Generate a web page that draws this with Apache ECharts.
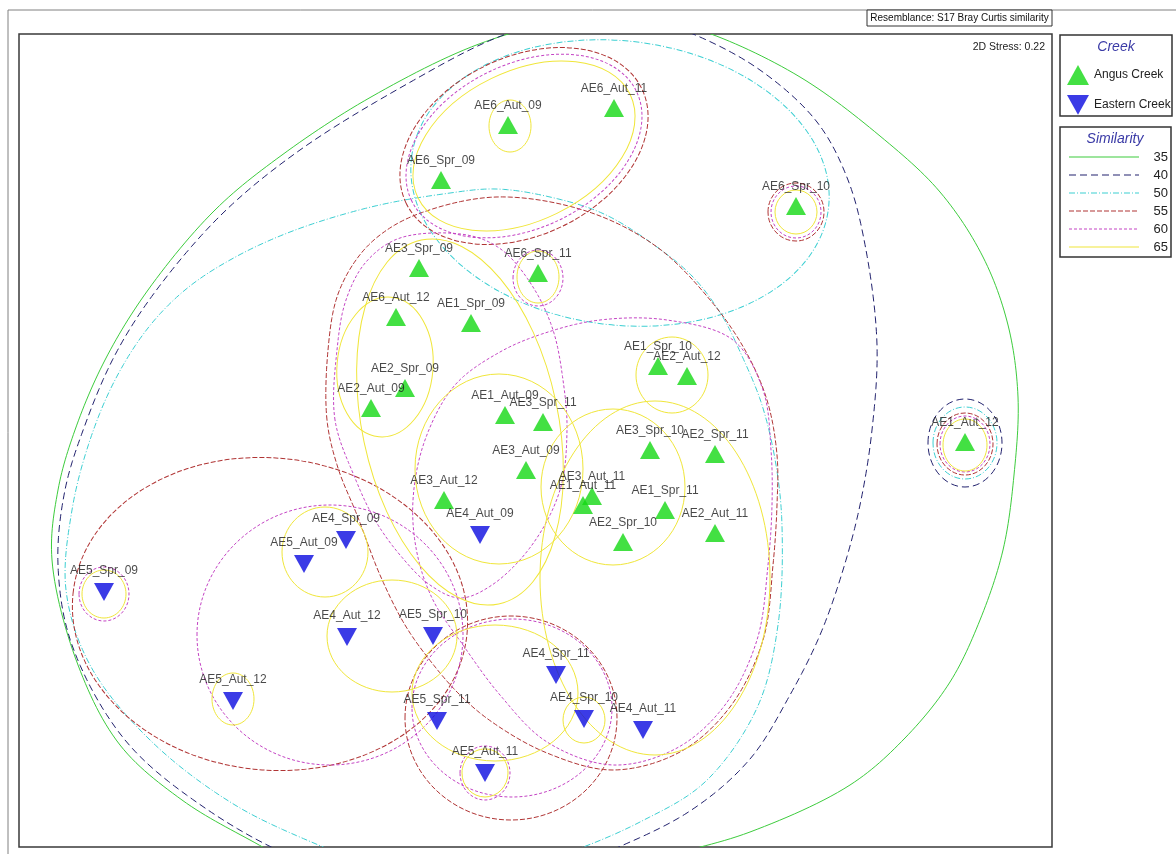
<!DOCTYPE html>
<html>
<head>
<meta charset="utf-8">
<title>nMDS – Angus Creek vs Eastern Creek</title>
<script src="https://cdn.jsdelivr.net/npm/echarts/dist/echarts.min.js"></script>
<style>
  html, body { margin: 0; padding: 0; background: #fff; }
  #chart { width: 1176px; height: 854px; }
</style>
</head>
<body>
<div id="chart"></div>
<script>
// ---- Ordination scores (plot units) ----
const angusNames = ['AE6_Aut_09','AE6_Aut_11','AE6_Spr_09','AE6_Spr_10','AE3_Spr_09','AE6_Spr_11',
  'AE6_Aut_12','AE1_Spr_09','AE1_Spr_10','AE2_Aut_12','AE2_Spr_09','AE2_Aut_09','AE1_Aut_09',
  'AE3_Spr_11','AE3_Aut_09','AE3_Aut_11','AE1_Aut_11','AE3_Spr_10','AE2_Spr_11','AE3_Aut_12',
  'AE1_Spr_11','AE2_Spr_10','AE2_Aut_11','AE1_Aut_12'];
const angusX = [508,614,441,796,419,538,396,471,658,687,405,371,505,543,526,592,583,650,715,444,665,623,715,965];
const angusY = [125,108,180,206,268,273,317,323,366,376,388,408,415,422,470,496,505,450,454,500,510,542,533,442];

const easternNames = ['AE4_Aut_09','AE4_Spr_09','AE5_Aut_09','AE5_Spr_09','AE4_Aut_12','AE5_Spr_10',
  'AE5_Aut_12','AE4_Spr_11','AE5_Spr_11','AE4_Spr_10','AE4_Aut_11','AE5_Aut_11'];
const easternX = [480,346,304,104,347,433,233,556,437,584,643,485];
const easternY = [535,540,564,592,637,636,701,675,721,719,730,773];

// ---- Similarity contours ----
// ellipses: [centreX, centreY, radiusX, radiusY, tilt in degrees (anticlockwise)]
// outlines: closed point lists traced around each group
const levels = ['35', '40', '50', '55', '60', '65'];

const outline35 = [[52,560],[58,490],[75,430],[105,360],[148,290],[215,210],[282,155],[371,97],[479,44],
  [570,20],[650,18],[711,34],[800,77],[880,136],[940,192],[983,257],[1008,325],[1018,397],[1014,475],
  [1003,550],[980,620],[950,682],[905,738],[850,785],[750,832],[660,858],[560,890],[420,895],[320,875],
  [250,840],[182,800],[120,745],[78,665]];

const outline40 = [[58,565],[65,490],[85,425],[115,355],[155,292],[222,214],[300,150],[407,84],[496,38],
  [570,16],[640,17],[693,34],[760,70],[817,122],[848,180],[866,250],[877,345],[872,430],[860,505],
  [843,570],[820,635],[790,695],[750,759],[690,811],[600,855],[520,885],[400,888],[300,860],[205,808],
  [125,740],[72,645]];

const outline50 = [[66,590],[72,510],[90,440],[115,380],[148,328],[185,290],[230,260],[290,232],[371,207],
  [443,194],[496,189],[550,197],[604,214],[657,247],[693,277],[721,314],[742,356],[762,405],[776,465],
  [782,526],[778,625],[757,708],[705,782],[640,822],[570,852],[480,880],[400,878],[330,850],[235,805],
  [150,740],[90,665]];

const outline55 = [[327,420],[328,350],[337,297],[356,260],[380,235],[418,214],[496,197],[586,211],
  [657,247],[711,301],[745,350],[767,400],[777,455],[777,505],[773,565],[763,640],[730,707],[680,752],
  [613,770],[547,753],[492,722],[460,695],[432,663],[405,625],[380,575],[357,515],[338,468]];

const outline60a = [[335,420],[337,350],[346,300],[366,262],[400,238],[467,235],[502,250],[533,287],
  [553,330],[563,380],[567,430],[560,490],[532,545],[492,585],[460,598],[430,585],[400,555],[375,520],
  [355,478]];

const outline60b = [[413,500],[425,440],[455,385],[500,352],[545,333],[600,320],[667,320],[733,340],
  [763,390],[771,450],[772,505],[768,565],[757,640],[725,705],[677,748],[613,765],[547,742],[500,695],
  [463,645],[433,600],[417,553]];

const ellipses35 = [];
const ellipses40 = [[965,443,37,44,0]];
const ellipses50 = [[620,183,210,142,-7],[965,443,32,36,0]];
const ellipses55 = [[524,146,131,89,26],[796,212,28,29,0],[965,444,28,31,0],[270,614,198,156,-6],[511,718,106,102,0]];
const ellipses60 = [[524,146,125,82,26],[538,278,25,28,0],[796,212,25,26,0],[965,444,25,28,0],
  [104,594,25,27,0],[485,773,25,27,0],[330,635,133,130,0],[512,708,100,89,0]];
const ellipses65 = [[510,126,21,26,0],[524,146,118,75,26],[538,277,21,26,0],[796,212,21,22,0],
  [672,375,36,38,0],[385,367,48,70,-5],[460,422,98,186,12],[499,469,84,95,0],[613,487,72,78,0],
  [655,578,115,177,0],[965,445,22,26,0],[104,594,22,24,0],[233,699,21,26,0],[325,552,43,45,0],
  [392,636,65,56,0],[485,773,23,24,0],[584,720,21,23,0],[495,693,83,68,0]];

const outlinesByLevel = { '35': [outline35], '40': [outline40], '50': [outline50], '55': [outline55], '60': [outline60a, outline60b], '65': [] };
const ellipsesByLevel = { '35': ellipses35, '40': ellipses40, '50': ellipses50, '55': ellipses55, '60': ellipses60, '65': ellipses65 };

// ---- Styles ----
const FONT = '"Liberation Sans", Arial, sans-serif';
const levelStyle = {
  '35': { stroke: '#3dcc3d', dash: null },
  '40': { stroke: '#22226e', dash: [7, 4] },
  '50': { stroke: '#3ccfd2', dash: [6, 2, 1, 2] },
  '55': { stroke: '#b03434', dash: [5, 2] },
  '60': { stroke: '#c444c4', dash: [3, 2] },
  '65': { stroke: '#f0e63a', dash: null }
};

// Closed centripetal Catmull-Rom curve through the traced screen points
function closedCurve(pts, steps) {
  const n = pts.length, out = [];
  const lerp = (a, b, ta, tb, t) => {
    const w = (tb - ta) === 0 ? 0 : (t - ta) / (tb - ta);
    return [a[0] + (b[0] - a[0]) * w, a[1] + (b[1] - a[1]) * w];
  };
  const knot = (a, b) => Math.pow(Math.hypot(b[0] - a[0], b[1] - a[1]), 0.5) || 1e-6;
  for (let i = 0; i < n; i++) {
    const p0 = pts[(i - 1 + n) % n], p1 = pts[i], p2 = pts[(i + 1) % n], p3 = pts[(i + 2) % n];
    const t0 = 0, t1 = t0 + knot(p0, p1), t2 = t1 + knot(p1, p2), t3 = t2 + knot(p2, p3);
    for (let k = 0; k < steps; k++) {
      const t = t1 + (t2 - t1) * k / steps;
      const a1 = lerp(p0, p1, t0, t1, t), a2 = lerp(p1, p2, t1, t2, t), a3 = lerp(p2, p3, t2, t3, t);
      const b1 = lerp(a1, a2, t0, t2, t), b2 = lerp(a2, a3, t1, t3, t);
      out.push(lerp(b1, b2, t1, t2, t));
    }
  }
  return out;
}

function ellipseRenderer(level) {
  const st = levelStyle[level];
  return function (params, api) {
    const c = api.coord([api.value(0), api.value(1)]);
    const s = api.size([api.value(2), api.value(3)]);
    return {
      type: 'ellipse',
      x: c[0], y: c[1],
      rotation: api.value(4) * Math.PI / 180,
      shape: { cx: 0, cy: 0, rx: Math.abs(s[0]), ry: Math.abs(s[1]) },
      style: { fill: 'none', stroke: st.stroke, lineWidth: 1, lineDash: st.dash },
      silent: true
    };
  };
}

function outlineRenderer(level) {
  const st = levelStyle[level];
  const list = outlinesByLevel[level];
  return function (params, api) {
    const pts = list[params.dataIndex].map(p => api.coord(p));
    return {
      type: 'polygon',
      shape: { points: closedCurve(pts, 14) },
      style: { fill: 'none', stroke: st.stroke, lineWidth: 1, lineDash: st.dash },
      silent: true
    };
  };
}

const contourSeries = [];
levels.forEach(level => {
  if (outlinesByLevel[level].length) {
    contourSeries.push({
      type: 'custom', name: 'outline ' + level, coordinateSystem: 'cartesian2d', clip: true,
      renderItem: outlineRenderer(level),
      data: outlinesByLevel[level].map(o => o[0]),
      z: 1, silent: true
    });
  }
  if (ellipsesByLevel[level].length) {
    contourSeries.push({
      type: 'custom', name: 'ellipse ' + level, coordinateSystem: 'cartesian2d', clip: true,
      renderItem: ellipseRenderer(level),
      data: ellipsesByLevel[level],
      encode: { x: 0, y: 1 },
      z: 1, silent: true
    });
  }
});

const DOWN_TRIANGLE = 'path://M0,0L20,0L10,18Z';

const pointLabel = (dist) => ({
  show: true, position: 'top', distance: dist, formatter: '{b}',
  color: '#1a1a1a', fontSize: 12, fontFamily: FONT
});

const pointSeries = [
  {
    type: 'scatter', name: 'Angus Creek',
    data: angusX.map((x, i) => ({ name: angusNames[i], value: [x, angusY[i]] })),
    symbol: 'triangle', symbolSize: [20, 18],
    itemStyle: { color: '#14d814' },
    label: pointLabel(4), z: 5, silent: true
  },
  {
    type: 'scatter', name: 'Eastern Creek',
    data: easternX.map((x, i) => ({ name: easternNames[i], value: [x, easternY[i]] })),
    symbol: DOWN_TRIANGLE, symbolSize: [20, 18],
    itemStyle: { color: '#0a0ae0' },
    label: pointLabel(6), z: 5, silent: true
  }
];

// ---- Similarity key ----
const keyRowsY = [157, 175, 193, 211, 229, 247];
const keyGraphics = [];
levels.forEach((level, i) => {
  const st = levelStyle[level];
  keyGraphics.push({
    type: 'line', shape: { x1: 1069, y1: keyRowsY[i], x2: 1139, y2: keyRowsY[i] },
    style: { stroke: st.stroke, lineWidth: 1.2, lineDash: st.dash }, silent: true
  });
  keyGraphics.push({
    type: 'text', x: 1168, y: keyRowsY[i],
    style: { text: level, fontSize: 13, fontFamily: FONT, fill: '#222', align: 'right', verticalAlign: 'middle' }
  });
});

const chart = echarts.init(document.getElementById('chart'), null, { renderer: 'canvas' });
chart.setOption({
  animation: false,
  backgroundColor: '#ffffff',
  grid: { left: 19, top: 34, width: 1033, height: 813, show: true, borderColor: '#3a3a3a', borderWidth: 1.5, backgroundColor: 'transparent' },
  xAxis: { type: 'value', min: 19, max: 1052, show: false },
  yAxis: { type: 'value', min: 34, max: 847, inverse: true, show: false },
  tooltip: { show: false },
  legend: {
    data: ['Angus Creek', 'Eastern Creek'], orient: 'vertical',
    left: 1062, top: 60, itemWidth: 22, itemHeight: 20, itemGap: 10,
    selectedMode: false,
    textStyle: { fontSize: 12, color: '#222', fontFamily: FONT }
  },
  graphic: [
    { type: 'rect', shape: { x: 8, y: 10, width: 1200, height: 900 }, style: { fill: 'none', stroke: '#808080', lineWidth: 1 }, silent: true, z: -10 },
    { type: 'rect', shape: { x: 867, y: 10, width: 185, height: 16 }, style: { fill: '#fff', stroke: '#333', lineWidth: 1 }, silent: true },
    { type: 'text', x: 959.5, y: 18.5, style: { text: 'Resemblance: S17 Bray Curtis similarity', fontSize: 10, fontFamily: FONT, fill: '#111', align: 'center', verticalAlign: 'middle' } },
    { type: 'text', x: 1045, y: 47, style: { text: '2D Stress: 0.22', fontSize: 10.5, fontFamily: FONT, fill: '#222', align: 'right', verticalAlign: 'middle' } },
    { type: 'rect', shape: { x: 1060, y: 35, width: 112, height: 81 }, style: { fill: 'none', stroke: '#333', lineWidth: 1.5 }, silent: true },
    { type: 'text', x: 1116, y: 47, style: { text: 'Creek', fontSize: 14, fontStyle: 'italic', fontFamily: FONT, fill: '#3a3aa6', align: 'center', verticalAlign: 'middle' } },
    { type: 'rect', shape: { x: 1060, y: 127, width: 111, height: 130 }, style: { fill: 'none', stroke: '#333', lineWidth: 1.5 }, silent: true },
    { type: 'text', x: 1115, y: 139, style: { text: 'Similarity', fontSize: 14, fontStyle: 'italic', fontFamily: FONT, fill: '#3a3aa6', align: 'center', verticalAlign: 'middle' } }
  ].concat(keyGraphics),
  series: contourSeries.concat(pointSeries)
});
</script>
</body>
</html>
